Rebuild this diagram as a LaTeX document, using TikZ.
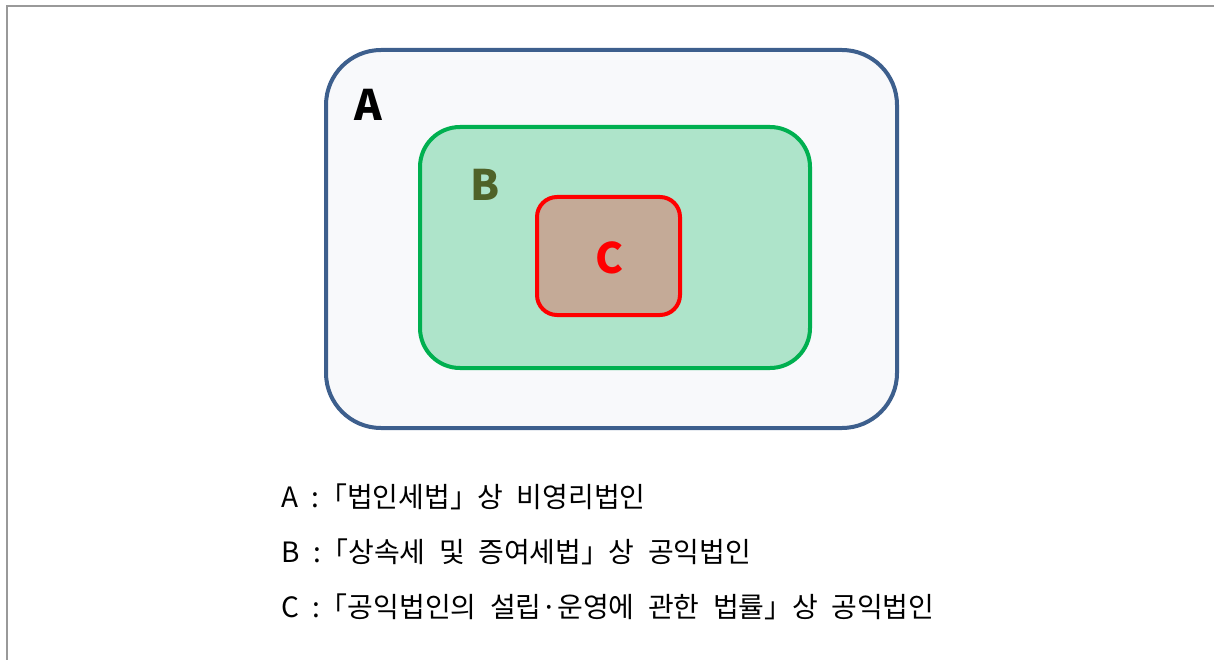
\documentclass[tikz,border=0pt]{standalone}
\usepackage{fontspec}
\setmainfont{Noto Sans CJK KR}
\newfontfamily\legendfont[RawFeature=+halt]{Noto Sans CJK KR}
\newcommand\legendsize{\legendfont\fontsize{28}{28}\selectfont\spaceskip 13.5pt\relax}
\usepackage[svgnames]{xcolor}
\usetikzlibrary{positioning}
\definecolor{lineA}{HTML}{3D5F8D}
\definecolor{fillA}{HTML}{F8F9FB}
\definecolor{lineB}{HTML}{00B050}
\definecolor{fillB}{HTML}{AEE4CA}
\definecolor{lineC}{HTML}{FF0000}
\definecolor{fillC}{HTML}{C4AA97}
\definecolor{textB}{HTML}{4F6228}
\tikzset{
	setbox/.style = {draw, line width=4pt, inner sep=0pt},
	setname/.style = {font=\fontsize{42}{42}\selectfont\bfseries},
	legend/.style = {anchor=west, inner sep=0pt, font=\legendsize}
}
\begin{document}
\begin{tikzpicture}[x=1pt,y=-1pt]
	\useasboundingbox (0,0) rectangle (1214,660);
	\draw[color=Gray!80, line width=1.5pt] (7,660) -- (7,6) -- (1214,6);
	% nested sets
	\node[setbox, draw=lineA, fill=fillA, rounded corners=55pt,
		minimum width=571pt, minimum height=378pt] (A) at (611.5,239) {};
	\node[setbox, draw=lineB, fill=fillB, rounded corners=40pt,
		minimum width=390pt, minimum height=241pt] (B) at (615,247.5) {};
	\node[setbox, draw=lineC, fill=fillC, rounded corners=20pt,
		minimum width=143pt, minimum height=118pt] (C) at (608.5,256) {};
	\node[setname] (nameA) at (368,105) {A};
	\node[setname, color=textB] (nameB) at (485,185) {B};
	\node[setname, color=lineC] (nameC) at (609,258) {C};
	% legend
	\node[legend] (legA) at (281,497) {A : 「법인세법」 상 비영리법인};
	\node[legend, below=55pt of legA.west, anchor=west] (legB) {B : 「상속세 및 증여세법」 상 공익법인};
	\node[legend, below=55pt of legB.west, anchor=west] (legC) {C : 「공익법인의 설립·운영에 관한 법률」 상 공익법인};
\end{tikzpicture}
\end{document}
